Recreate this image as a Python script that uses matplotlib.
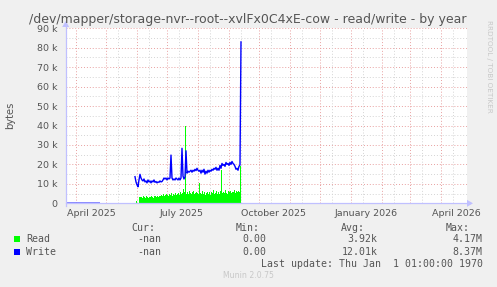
import matplotlib
matplotlib.use("Agg")
import matplotlib.pyplot as plt
import numpy as np
import pandas as pd

# ---------------- data (values in thousands of bytes) ----------------
title = "/dev/mapper/storage-nvr--root--xvlFx0C4xE-cow - read/write - by year"

write_early_dates = ["2025-03-22", "2025-04-25"]
write_early = [0.0, 0.0]

write_start = "2025-05-30"
write_vals = [
    13.7, 11.0, 9.5, 8.5, 12.0, 14.9, 13.0, 12.0, 11.5, 12.5,
    11.0, 11.5, 10.5, 12.0, 11.0, 11.5, 10.5, 11.5, 11.0, 12.0,
    10.8, 11.2, 10.5, 11.0, 10.8, 11.5, 11.0, 11.2, 12.0, 13.0,
    12.5, 13.0, 12.0, 13.0, 12.5, 13.0, 24.8, 13.0, 12.0, 12.5,
    12.0, 13.0, 12.5, 12.0, 13.0, 12.0, 13.0, 28.3, 14.0, 12.5,
    13.5, 27.0, 15.5, 16.5, 16.0, 16.5, 17.0, 16.0, 17.0, 16.5,
    17.5, 16.8, 18.0, 17.0, 16.5, 17.0, 15.5, 17.0, 16.0, 17.5,
    15.0, 16.5, 15.5, 17.0, 16.0, 17.0, 16.5, 17.5, 17.0, 18.0,
    17.5, 18.5, 17.0, 18.0, 17.0, 19.5, 18.0, 20.5, 19.5, 20.0,
    19.0, 21.0, 20.0, 20.5, 19.5, 21.0, 20.0, 21.5, 20.5, 20.0,
    19.0, 17.5, 18.0, 17.0, 19.0, 19.7, 83.0,
]

read_start = "2025-05-31"
read_vals = [
    1.5, 1.0, 0.2, 0.2, 3.2,
    3.0, 3.4, 2.8, 3.5, 3.1, 2.9, 3.6, 3.3, 2.7, 3.4, 3.0, 3.8, 3.2, 2.9, 3.5, 3.6, 3.1, 4.0, 3.3, 3.7,
    3.9, 4.2, 3.5, 4.6, 3.8, 4.4, 5.0, 4.1, 3.9, 4.8, 4.3, 5.2, 4.0, 4.7, 4.4, 5.5, 4.2, 4.9, 5.1, 4.5,
    6.0, 4.8, 5.3, 7.5, 6.0,
    40.0,
    5.0, 5.8, 4.6, 6.2, 5.1, 4.8, 5.6, 6.5, 4.9, 5.4, 6.0, 5.2, 4.7,
    10.5,
    5.5, 4.6, 6.3, 5.0, 5.8, 4.4, 5.2, 6.0, 4.9, 5.6, 4.5, 5.9, 5.1, 6.6, 4.8, 5.3, 6.2, 5.0, 5.7, 4.9, 6.1,
    17.0,
    5.4, 6.0, 5.1, 6.8, 5.5, 4.9, 6.3, 5.7, 6.5, 5.2, 6.0, 5.6, 6.9, 5.3, 6.2, 5.8, 6.4, 5.9,
    19.0,
]

y_ticks = [0, 10, 20, 30, 40, 50, 60, 70, 80, 90]
y_tick_labels = ["0", "10 k", "20 k", "30 k", "40 k", "50 k", "60 k", "70 k", "80 k", "90 k"]
x_label_dates = ["2025-04-16", "2025-07-16", "2025-10-16", "2026-01-16", "2026-04-16"]
x_labels = ["April 2025", "July 2025", "October 2025", "January 2026", "April 2026"]

legend_names = ["Read", "Write"]
legend_colors = ["#00ff00", "#0000ff"]
cur_vals = ["-nan", "-nan"]
min_vals = ["0.00", "0.00"]
avg_vals = ["3.92k", "12.01k"]
max_vals = ["4.17M", "8.37M"]

# ---------------- figure ----------------
W, H = 497, 287
fig = plt.figure(figsize=(W / 100, H / 100), dpi=100, facecolor="#f0f0f0")
L, R, T, B = 65.7, 467.0, 28.3, 203.3
ax = fig.add_axes([L / W, 1 - B / H, (R - L) / W, (B - T) / H])
ax.set_facecolor("white")
for s in ax.spines.values():
    s.set_visible(False)

x0 = pd.Timestamp("2025-03-21 17:00")
x1 = pd.Timestamp("2026-04-27 00:00")
ax.set_xlim(x0, x1)
ax.set_ylim(0, 90)

# grid
red = "#e8a0a0"
gray = "#d4d4d4"
for v in range(5, 90, 10):
    ax.axhline(v, color=gray, lw=0.7, ls=(0, (1, 2)), zorder=0)
for v in range(10, 91, 10):
    ax.axhline(v, color=red, lw=0.7, ls=(0, (1, 2)), zorder=0)
for d in pd.date_range("2025-04-13", "2026-04-20", freq="MS") + pd.Timedelta(days=12):
    ax.axvline(d, color=gray, lw=0.7, ls=(0, (1, 2)), zorder=0)
for d in pd.date_range("2025-04-01", "2026-04-20", freq="MS"):
    ax.axvline(d, color=red, lw=0.7, ls=(0, (1, 2)), zorder=0)

# data
read_dates = pd.date_range(read_start, periods=len(read_vals), freq="D")
write_dates = pd.date_range(write_start, periods=len(write_vals), freq="D")
ax.fill_between(read_dates, 0, read_vals, step="mid", color="#00ff00", lw=0, zorder=2)
ax.plot(pd.to_datetime(write_early_dates), write_early, color="#7070ff", lw=1.2, zorder=3,
        solid_capstyle="butt")
ax.plot(write_dates, write_vals, color="#0000ff", lw=1.0, zorder=3)

# ticks
ax.set_yticks(y_ticks)
ax.set_yticklabels(y_tick_labels)
ax.set_xticks(pd.to_datetime(x_label_dates))
ax.set_xticklabels(x_labels)
ax.tick_params(length=0, labelsize=6.8, labelcolor="#555555", pad=4)
ax.tick_params(axis="y", pad=6)
ax.set_ylabel("bytes", fontsize=7.2, color="#555555")
ax.yaxis.set_label_coords((15 - L) / (R - L), 0.5)

# axis lines with arrows
axc = "#c0c0ff"
fig.add_artist(plt.Line2D([L / W, 470 / W], [1 - B / H] * 2, color=axc, lw=0.9))
fig.add_artist(plt.Line2D([L / W] * 2, [1 - 206 / H, 1 - 24 / H], color=axc, lw=0.9))
fig.add_artist(plt.Polygon([[467 / W, 1 - 199.8 / H], [467 / W, 1 - 206.8 / H], [473 / W, 1 - B / H]],
                           closed=True, color=axc, lw=0))
fig.add_artist(plt.Polygon([[62.2 / W, 1 - 27 / H], [69.2 / W, 1 - 27 / H], [L / W, 1 - 21 / H]],
                           closed=True, color=axc, lw=0))

# title and side text
fig.text(248 / W, 1 - 22.5 / H, title, ha="center", va="baseline", fontsize=9.0, color="#555555")
fig.text(489 / W, 1 - 20 / H, "RRDTOOL / TOBI OETIKER", rotation=270, ha="center", va="top",
         fontsize=5.2, color="#c8c8c8")

# legend
mono = dict(family="DejaVu Sans Mono", fontsize=7.1, color="#555555")
hy = 228
for txt, xr in zip(["Cur:", "Min:", "Avg:", "Max:"], [155, 260, 365, 470]):
    fig.text(xr / W, 1 - hy / H, txt, ha="right", va="center", **mono)
rows_y = [239.3, 251.7]
for i in range(2):
    y = rows_y[i]
    fig.add_artist(plt.Rectangle((14 / W, 1 - (y + 3) / H), 6 / W, 6 / H, color=legend_colors[i], lw=0))
    fig.text(26 / W, 1 - y / H, legend_names[i], ha="left", va="center", **mono)
    fig.text(161 / W, 1 - y / H, cur_vals[i], ha="right", va="center", **mono)
    fig.text(266 / W, 1 - y / H, min_vals[i], ha="right", va="center", **mono)
    fig.text(377.7 / W, 1 - y / H, avg_vals[i], ha="right", va="center", **mono)
    fig.text(482.7 / W, 1 - y / H, max_vals[i], ha="right", va="center", **mono)
fig.text(482.7 / W, 1 - 264 / H, "Last update: Thu Jan  1 01:00:00 1970", ha="right", va="center", **mono)
fig.text(248 / W, 1 - 276 / H, "Munin 2.0.75", ha="center", va="center", fontsize=5.6, color="#c8c8c8")

fig.savefig("out.png", dpi=100, facecolor=fig.get_facecolor())
